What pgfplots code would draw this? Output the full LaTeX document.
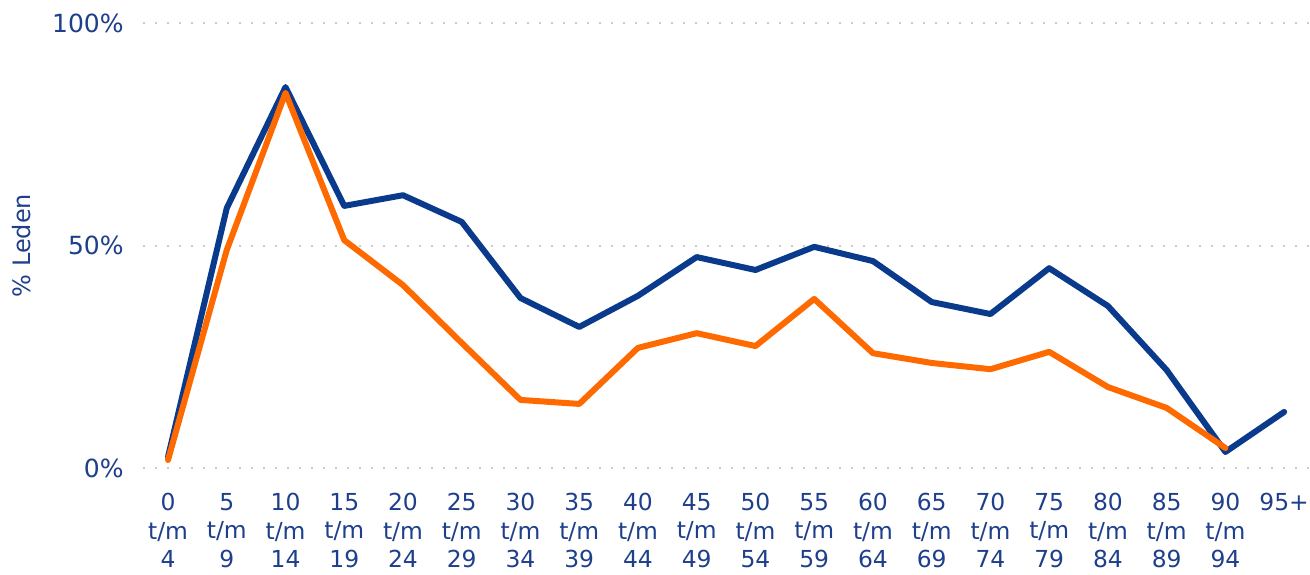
\documentclass[border=0pt]{standalone}
\usepackage{pgfplots}
\pgfplotsset{compat=1.18}
\usepackage{fontspec}
\setmainfont{DejaVu Sans}
\definecolor{navy}{HTML}{0A3A8C}
\definecolor{orng}{HTML}{FF6A00}
\definecolor{txt}{HTML}{1E3F8B}
\begin{document}
\begin{tikzpicture}
\begin{axis}[
  name=ax,
  scale only axis,
  width=583.5pt, height=222.5pt,
  xmin=-0.426, xmax=19.44,
  ymin=0, ymax=100,
  axis line style={draw=none},
  major tick length=0pt,
  xtick={0,...,19},
  xticklabels={{0\\t/m\\4},{5\\t/m\\9},{10\\t/m\\14},{15\\t/m\\19},{20\\t/m\\24},{25\\t/m\\29},{30\\t/m\\34},{35\\t/m\\39},{40\\t/m\\44},{45\\t/m\\49},{50\\t/m\\54},{55\\t/m\\59},{60\\t/m\\64},{65\\t/m\\69},{70\\t/m\\74},{75\\t/m\\79},{80\\t/m\\84},{85\\t/m\\89},{90\\t/m\\94},{95+}},
  xticklabel style={align=center, font=\fontsize{11.7}{14.2}\selectfont, text=txt, anchor=north, inner sep=0pt, yshift=-12.5pt},
  ytick={0,50,100},
  yticklabels={0\%,50\%,100\%},
  yticklabel style={font=\fontsize{12.5}{14}\selectfont, text=txt, anchor=east, inner sep=0pt, xshift=-9.5pt},
  ymajorgrids,
  grid style={line width=1pt, color=gray!40, dash pattern=on 1pt off 5pt},
  ylabel={\% Leden},
  ylabel style={font=\fontsize{12}{14}\selectfont, text=txt, at={(axis description cs:-0.1037,0.5)}, anchor=center},
  clip=false,
]
\addplot[navy, line width=3pt, line join=round, line cap=round] coordinates {
(0,2.5) (1,58.4) (2,85.6) (3,58.9) (4,61.3) (5,55.3) (6,38.2) (7,31.7) (8,38.7) (9,47.4)
(10,44.5) (11,49.7) (12,46.5) (13,37.3) (14,34.6) (15,44.9) (16,36.4) (17,22.0) (18,3.6) (19,12.6)};
\addplot[orng, line width=3pt, line join=round, line cap=round] coordinates {
(0,1.8) (1,49.0) (2,84.3) (3,51.2) (4,41.1) (5,28.1) (6,15.3) (7,14.4) (8,27.0) (9,30.3)
(10,27.4) (11,38.0) (12,25.8) (13,23.6) (14,22.2) (15,26.1) (16,18.2) (17,13.5) (18,4.5)};
\end{axis}
\pgfresetboundingbox
\path ([xshift=-71.5pt,yshift=-53pt]ax.south west) rectangle ([yshift=11.5pt]ax.north east);
\end{tikzpicture}
\end{document}
